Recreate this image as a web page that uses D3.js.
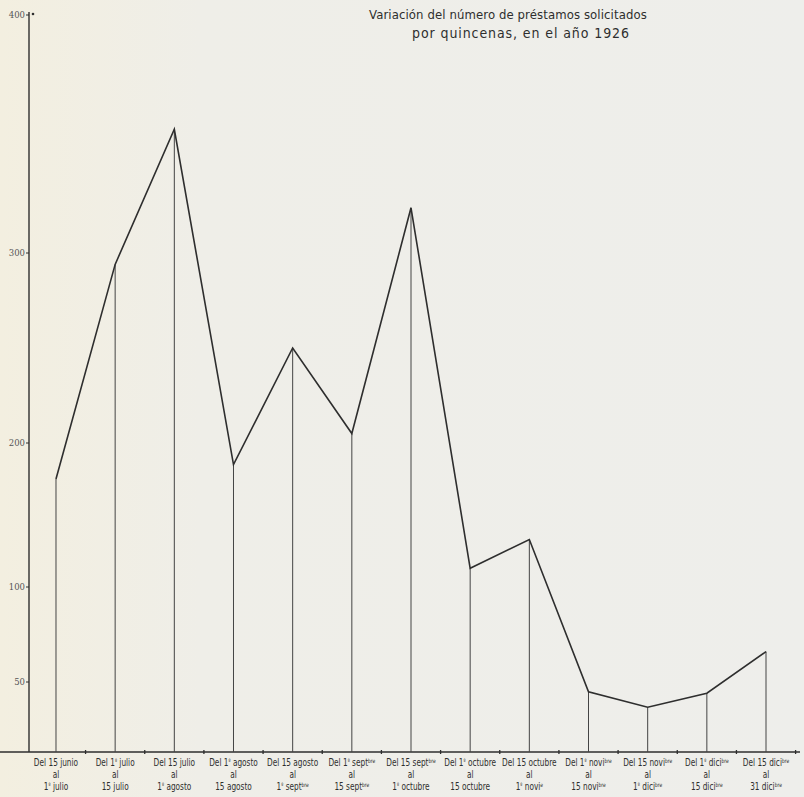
<!DOCTYPE html>
<html>
<head>
<meta charset="utf-8">
<script src="https://cdn.jsdelivr.net/npm/d3@7"></script>
<style>
  html, body { margin: 0; padding: 0; background: #efeee8; }
  svg { display: block; }
</style>
</head>
<body>
<svg id="chart" width="804" height="797"></svg>
<script>
// ---- data ----
const categoriesFrom = ["Del 15 junio", "Del 1|º| julio", "Del 15 julio", "Del 1|º| agosto", "Del 15 agosto",
  "Del 1|º| sept|bre|", "Del 15 sept|bre|", "Del 1|º| octubre", "Del 15 octubre", "Del 1|º| novi|bre|",
  "Del 15 novi|bre|", "Del 1|º| dici|bre|", "Del 15 dici|bre|"];
const categoriesTo = ["1|º| julio", "15 julio", "1|º| agosto", "15 agosto", "1|º| sept|bre|",
  "15 sept|bre|", "1|º| octubre", "15 octubre", "1|º| novi|e|", "15 novi|bre|",
  "1|º| dici|bre|", "15 dici|bre|", "31 dici|bre|"];
const values = [175, 294, 352, 185, 250, 205, 319, 113, 133, 43, 32, 42, 66];
const yTicks = [400, 300, 200, 100, 50];
const titleLines = ["Variación del número de préstamos solicitados", "por quincenas, en el año 1926"];

const svg = d3.select("#chart");
const W = 804, H = 797;

// paper background
const defs = svg.append("defs");
const grad = defs.append("linearGradient").attr("id", "paper").attr("x1", "0").attr("x2", "1");
grad.append("stop").attr("offset", "0").attr("stop-color", "#f3efe0");
grad.append("stop").attr("offset", "0.25").attr("stop-color", "#efeee8");
grad.append("stop").attr("offset", "1").attr("stop-color", "#eeeeeb");
svg.append("rect").attr("width", W).attr("height", H).attr("fill", "url(#paper)");

const ink = "#2e2e2e";
const baseY = 752;

// scales (hand-drawn, uneven vertical scale)
const x = d3.scaleBand().domain(d3.range(values.length)).range([26.4, 795.6]).paddingInner(0).paddingOuter(0);
const y = d3.scaleLinear().domain([0, 50, 100, 200, 300, 400]).range([baseY, 682, 587, 443, 253, 15]);
const cx = i => x(i) + x.bandwidth() / 2;

// title
svg.append("g").selectAll("text").data(titleLines).join("text")
  .attr("x", (d, i) => i === 0 ? 508 : 521)
  .attr("y", (d, i) => 19 + i * 19)
  .attr("text-anchor", "middle")
  .attr("font-family", "'DejaVu Sans Condensed', 'DejaVu Sans', sans-serif")
  .attr("font-size", (d, i) => i === 0 ? 13 : 14)
  .attr("letter-spacing", (d, i) => i === 0 ? 0.1 : 0.9)
  .attr("fill", ink)
  .text(d => d);

// y axis
const yAxisX = 29;
svg.append("line").attr("x1", yAxisX).attr("x2", yAxisX).attr("y1", 12).attr("y2", baseY)
  .attr("stroke", ink).attr("stroke-width", 1.4);
const yg = svg.append("g");
yg.selectAll("line.t").data(yTicks).join("line").attr("class", "t")
  .attr("x1", yAxisX - 3).attr("x2", yAxisX).attr("y1", d => y(d)).attr("y2", d => y(d))
  .attr("stroke", ink).attr("stroke-width", 1);
yg.selectAll("text").data(yTicks).join("text")
  .attr("x", yAxisX - 4).attr("y", d => y(d) + 3)
  .attr("text-anchor", "end")
  .attr("font-family", "'DejaVu Serif', serif")
  .attr("font-size", 8.5)
  .attr("fill", "#555")
  .text(d => d);
svg.append("circle").attr("cx", yAxisX + 4).attr("cy", 14).attr("r", 1.3).attr("fill", ink);

// x axis baseline with ticks at band edges
svg.append("line").attr("x1", 0).attr("x2", 800).attr("y1", baseY).attr("y2", baseY)
  .attr("stroke", ink).attr("stroke-width", 1.3);
const edges = d3.range(1, values.length + 1).map(i => x.range()[0] + i * x.bandwidth());
svg.append("g").selectAll("line").data(edges.filter(e => e < 800)).join("line")
  .attr("x1", d => d).attr("x2", d => d).attr("y1", baseY - 2).attr("y2", baseY + 2)
  .attr("stroke", ink).attr("stroke-width", 1.3);

// vertical drop lines
svg.append("g").selectAll("line").data(values).join("line")
  .attr("x1", (d, i) => cx(i)).attr("x2", (d, i) => cx(i))
  .attr("y1", d => y(d)).attr("y2", baseY)
  .attr("stroke", "#444").attr("stroke-width", 1);

// polyline
const line = d3.line().x((d, i) => cx(i)).y(d => y(d));
svg.append("path").datum(values).attr("d", line)
  .attr("fill", "none").attr("stroke", ink).attr("stroke-width", 1.6).attr("stroke-linejoin", "miter");

// x labels with superscripts (segments split by "|", odd segments are superscripts)
function addRich(textSel, str) {
  str.split("|").forEach((seg, k) => {
    if (!seg) return;
    const t = textSel.append("tspan").text(seg);
    if (k % 2 === 1) t.attr("font-size", 6).attr("dy", -3);
    else if (k > 0) t.attr("dy", 3);
  });
}
const lab = svg.append("g")
  .attr("font-family", "'DejaVu Sans Condensed', 'DejaVu Sans', sans-serif")
  .attr("font-size", 10)
  .attr("fill", ink)
  .attr("text-anchor", "middle");
values.forEach((v, i) => {
  const g = lab.append("g").attr("transform", `translate(${cx(i)},0) scale(0.82,1)`);
  const t1 = g.append("text").attr("x", 0).attr("y", 766);
  addRich(t1, categoriesFrom[i]);
  g.append("text").attr("x", 0).attr("y", 778).text("al");
  const t3 = g.append("text").attr("x", 0).attr("y", 790);
  addRich(t3, categoriesTo[i]);
});
</script>
</body>
</html>
